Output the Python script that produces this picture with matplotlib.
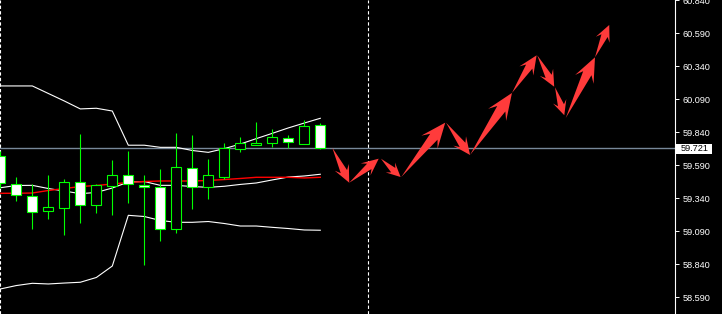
import matplotlib
matplotlib.use('Agg')
import matplotlib.pyplot as plt
import numpy as np
from matplotlib.patches import Rectangle, Polygon

# --- Candles (bar index, OHLC) ---
bars = list(range(21))
opens = [59.660, 59.446, 59.355, 59.242, 59.264, 59.463, 59.287, 59.431, 59.514, 59.438, 59.423,
         59.105, 59.567, 59.423, 59.504, 59.716, 59.746, 59.761, 59.797, 59.754, 59.895]
highs = [59.700, 59.499, 59.446, 59.517, 59.486, 59.829, 59.448, 59.630, 59.698, 59.517, 59.562,
         59.832, 59.820, 59.638, 59.759, 59.804, 59.918, 59.865, 59.820, 59.933, 59.910]
lows = [59.420, 59.322, 59.110, 59.183, 59.064, 59.155, 59.226, 59.216, 59.307, 58.832, 59.014,
        59.079, 59.261, 59.337, 59.486, 59.693, 59.746, 59.729, 59.723, 59.754, 59.711]
closes = [59.456, 59.363, 59.238, 59.272, 59.463, 59.287, 59.441, 59.514, 59.446, 59.423, 59.105,
          59.575, 59.423, 59.514, 59.719, 59.759, 59.761, 59.804, 59.769, 59.888, 59.721]

# --- Bollinger bands + moving average ---
bb_upper = [60.191, 60.191, 60.191, 60.134, 60.077, 60.017, 60.022, 60.001, 59.742, 59.742, 59.726,
            59.726, 59.702, 59.688, 59.716, 59.751, 59.792, 59.832, 59.873, 59.910, 59.946]
bb_middle = [59.420, 59.437, 59.438, 59.414, 59.395, 59.375, 59.384, 59.418, 59.463, 59.467, 59.438,
             59.438, 59.429, 59.423, 59.431, 59.445, 59.456, 59.479, 59.501, 59.509, 59.522]
bb_lower = [58.653, 58.679, 58.696, 58.691, 58.698, 58.704, 58.740, 58.827, 59.211, 59.202, 59.172,
            59.158, 59.158, 59.164, 59.149, 59.130, 59.130, 59.120, 59.111, 59.100, 59.098]
ma_red = [59.378, 59.378, 59.380, 59.399, 59.414, 59.429, 59.437, 59.448, 59.460, 59.467, 59.471,
          59.471, 59.471, 59.475, 59.482, 59.490, 59.499, 59.499, 59.499, 59.494, 59.499]

# --- Forecast arrows (start -> end) ---
arrow_x0 = [20.75, 21.81, 23.79, 25.06, 27.86, 29.36, 31.98, 33.56, 34.67, 35.34, 37.17]
arrow_y0 = [59.723, 59.458, 59.640, 59.501, 59.913, 59.668, 60.138, 60.423, 60.181, 59.948, 60.408]
arrow_x1 = [21.81, 23.65, 25.02, 27.81, 29.36, 31.98, 33.52, 34.62, 35.25, 37.17, 38.06]
arrow_y1 = [59.458, 59.640, 59.501, 59.913, 59.668, 60.138, 60.423, 60.185, 59.969, 60.408, 60.653]

last_price = 59.721
price_ticks = [58.590, 58.840, 59.090, 59.340, 59.590, 59.840, 60.090, 60.340, 60.590, 60.840]
vlines_at = [0, 23]

GREEN = '#00ff00'
ARROW_RED = '#ff3b3b'

fig = plt.figure(figsize=(7.22, 3.14), dpi=100, facecolor='black')
ax = fig.add_axes([0, 0, 675 / 722, 1])
ax.set_facecolor('black')
ax.set_xlim(-0.02, 42.17)
ax.set_ylim(58.4635, 60.842)

# price axis on the right
ax.yaxis.tick_right()
ax.set_yticks(price_ticks)
ax.set_yticklabels(['%.3f' % t for t in price_ticks], family='Liberation Sans')
ax.tick_params(axis='y', colors='white', length=3, width=0.7, pad=2.5, labelsize=6.6)
ax.set_xticks([])
for s in ['top', 'bottom', 'left']:
    ax.spines[s].set_visible(False)
ax.spines['right'].set_color('white')
ax.spines['right'].set_linewidth(0.8)

# last price line
ax.axhline(last_price, color='#778899', lw=1, zorder=1)

# period separators
for v in vlines_at:
    ax.axvline(v, color='white', lw=0.8, linestyle=(0, (3, 2)), zorder=1)

# bands
ax.plot(bars, bb_upper, color='white', lw=0.8, zorder=2)
ax.plot(bars, bb_middle, color='white', lw=0.8, zorder=2)
ax.plot(bars, bb_lower, color='white', lw=0.8, zorder=2)
ax.plot(bars, ma_red, color='#ff0000', lw=1.0, zorder=2)

# candles: hollow = up, white = down
bw = 0.61
for x, o, h, l, c in zip(bars, opens, highs, lows, closes):
    ax.vlines(x, l, h, color=GREEN, lw=0.8, zorder=3)
    fc = 'white' if c < o else 'black'
    ax.add_patch(Rectangle((x - bw / 2, min(o, c)), bw, abs(c - o),
                           facecolor=fc, edgecolor=GREEN, lw=0.8, zorder=4))

# arrows built in pixel space so the shape isn't distorted by the axis scales
inv = ax.transData.inverted()
for x0, y0, x1, y1 in zip(arrow_x0, arrow_y0, arrow_x1, arrow_y1):
    p0 = ax.transData.transform((x0, y0))
    p1 = ax.transData.transform((x1, y1))
    d = p1 - p0
    L = np.hypot(*d)
    u = d / L
    n = np.array([-u[1], u[0]])
    hl = 0.26 * L + 7
    wh = 0.17 * L + 9
    ws = 0.45 * wh
    pts = [p0,
           p0 + u * (L - hl * 0.72) - n * ws / 2,
           p0 + u * (L - hl) - n * wh / 2,
           p1,
           p0 + u * (L - hl) + n * wh / 2,
           p0 + u * (L - hl * 0.72) + n * ws / 2]
    ax.add_patch(Polygon(inv.transform(np.array(pts)), closed=True,
                         facecolor=ARROW_RED, edgecolor='none', zorder=5))

# last price tag
fig.patches.append(Rectangle((676 / 722, (314 - 153.7) / 314), 35.7 / 722, 10 / 314,
                             transform=fig.transFigure, facecolor='white', edgecolor='none'))
fig.text(680.7 / 722, (314 - 148.7) / 314, '%.3f' % last_price, color='black',
         fontsize=6.6, family='Liberation Sans', ha='left', va='center')

plt.savefig('out.png', dpi=100, facecolor='black')
